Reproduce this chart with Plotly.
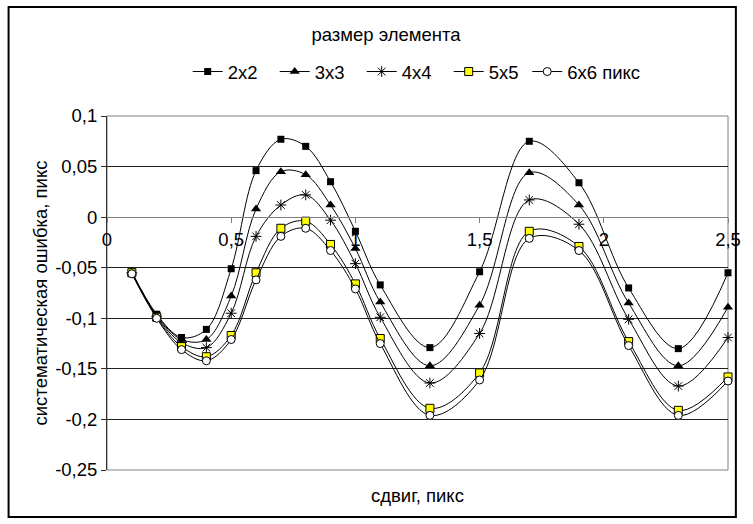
import plotly.graph_objects as go

# Shift, pixels
shift = [0.1, 0.2, 0.3, 0.4, 0.5, 0.6, 0.7, 0.8, 0.9, 1.0, 1.1, 1.3, 1.5, 1.7, 1.9, 2.1, 2.3, 2.5]

# Systematic error, pixels, per element size
err_2x2 = [-0.054, -0.096, -0.119, -0.111, -0.051, 0.046, 0.077, 0.070, 0.035, -0.014, -0.067,
           -0.129, -0.054, 0.075, 0.034, -0.070, -0.130, -0.055]
err_3x3 = [-0.055, -0.097, -0.121, -0.121, -0.078, 0.008, 0.045, 0.042, 0.012, -0.031, -0.084,
           -0.147, -0.087, 0.044, 0.012, -0.085, -0.147, -0.089]
err_4x4 = [-0.055, -0.098, -0.124, -0.129, -0.095, -0.019, 0.012, 0.022, -0.003, -0.046, -0.099,
           -0.164, -0.115, 0.017, -0.007, -0.101, -0.167, -0.119]
err_5x5 = [-0.055, -0.099, -0.128, -0.138, -0.117, -0.055, -0.011, -0.004, -0.027, -0.066, -0.120,
           -0.189, -0.154, -0.014, -0.029, -0.123, -0.191, -0.158]
err_6x6 = [-0.056, -0.100, -0.131, -0.142, -0.121, -0.062, -0.019, -0.011, -0.033, -0.071, -0.125,
           -0.196, -0.161, -0.021, -0.033, -0.127, -0.196, -0.162]

series_names = ["2x2", "3x3", "4x4", "5x5", "6x6 пикс"]

x_tick_vals = [0, 0.5, 1, 1.5, 2, 2.5]
x_tick_text = ["0", "0,5", "1", "1,5", "2", "2,5"]
y_tick_vals = [-0.25, -0.2, -0.15, -0.1, -0.05, 0, 0.05, 0.1]
y_tick_text = ["-0,25", "-0,2", "-0,15", "-0,1", "-0,05", "0", "0,05", "0,1"]

FONT = "Liberation Sans, Arial, sans-serif"
FS = 18.5

W, H = 753, 524
L, R, T, B = 107, 738, 116, 470  # plot area in pixels

marker_styles = [
    dict(symbol="square", size=7, color="black", line=dict(width=0)),
    dict(symbol="triangle-up", size=9, color="black", line=dict(width=0)),
    dict(symbol="asterisk-open", size=9, color="black", line=dict(width=1, color="black")),
    dict(symbol="square", size=8, color="#FFFF00", line=dict(width=1, color="black")),
    dict(symbol="circle", size=8, color="white", line=dict(width=1, color="black")),
]
# last entry goes to a second legend so its longer label is not cut
legend_refs = ["legend", "legend", "legend", "legend", "legend2"]

fig = go.Figure()
for name, ys, mk, lg in zip(series_names, [err_2x2, err_3x3, err_4x4, err_5x5, err_6x6],
                            marker_styles, legend_refs):
    fig.add_trace(go.Scatter(
        x=shift, y=ys, name=name, mode="lines+markers", cliponaxis=False, legend=lg,
        line=dict(color="black", width=1, shape="spline", smoothing=1),
        marker=mk,
    ))

pw, ph = R - L, B - T

def px_x(p):
    return (p - L) / pw

def px_y(p):
    return (B - p) / ph

legend_common = dict(orientation="h", y=px_y(72), yanchor="middle", xanchor="left",
                     font=dict(size=FS), bgcolor="rgba(0,0,0,0)", itemwidth=30)

fig.update_layout(
    width=W, height=H,
    margin=dict(l=L, r=W - R, t=T, b=H - B, pad=0),
    paper_bgcolor="white", plot_bgcolor="white",
    font=dict(family=FONT, size=FS, color="black"),
    title=dict(text="размер элемента", x=386 / W, xanchor="center",
               y=1 - 35 / H, yanchor="middle", font=dict(size=FS)),
    showlegend=True,
    legend=dict(x=px_x(189), entrywidth=42, entrywidthmode="pixels", **legend_common),
    legend2=dict(x=px_x(534), **legend_common),
    xaxis=dict(range=[0, 2.5], tickvals=x_tick_vals, ticktext=x_tick_text,
               anchor="free", position=0.25 / 0.35,
               showline=True, linecolor="#808080", linewidth=1,
               ticks="outside", ticklen=5, tickcolor="#808080",
               ticklabelstandoff=1,
               showgrid=False, zeroline=False,
               tickfont=dict(size=FS)),
    yaxis=dict(range=[-0.25, 0.1], tickvals=y_tick_vals, ticktext=y_tick_text,
               showline=True, linecolor="#303030", linewidth=1,
               ticks="outside", ticklen=5, tickcolor="#303030",
               showgrid=True, gridcolor="#202020", gridwidth=1,
               zeroline=False, tickfont=dict(size=FS),
               title=dict(text="систематическая ошибка, пикс", standoff=2,
                          font=dict(size=FS))),
    shapes=[
        # plot-area frame
        dict(type="rect", xref="x domain", yref="y domain", x0=0, x1=1, y0=0, y1=1,
             line=dict(color="#808080", width=1), layer="below"),
        # outer chart frame
        dict(type="rect", xref="paper", yref="paper",
             x0=px_x(7), x1=px_x(746), y0=px_y(517), y1=px_y(7),
             line=dict(color="black", width=2)),
    ],
    annotations=[
        dict(text="сдвиг, пикс", xref="paper", yref="paper", x=0.5, y=px_y(495),
             xanchor="center", yanchor="middle", showarrow=False, font=dict(size=FS)),
    ],
)

fig.write_html("out.html")
